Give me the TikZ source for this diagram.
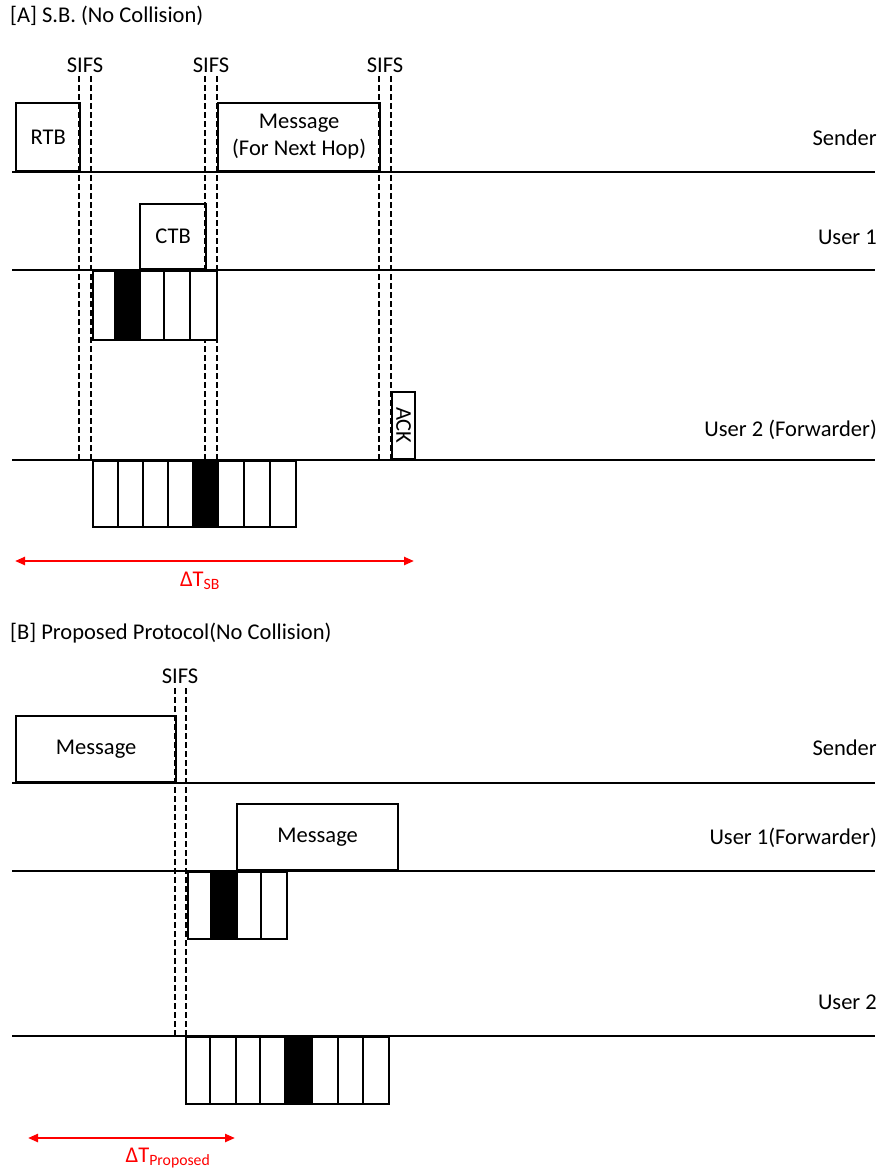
\documentclass[tikz,border=0pt]{standalone}
\usepackage{fontspec}
\setmainfont{Carlito}
\usetikzlibrary{arrows.meta}
\definecolor{arrred}{RGB}{255,0,0}
\begin{document}
\begin{tikzpicture}[x=1pt,y=-1pt,
  lane/.style={line width=2.3pt},
  box/.style={draw, line width=2.3pt, inner sep=0pt, anchor=south west, align=center, font=\fontsize{22.5}{27}\selectfont},
  slot/.style={draw, line width=2.3pt, inner sep=0pt, anchor=north west},
  sifs/.style={line width=2.3pt, dash pattern=on 6pt off 3pt},
  lbl/.style={font=\fontsize{22.5}{26}\selectfont, inner sep=0pt},
  title/.style={font=\fontsize{22.5}{26}\selectfont, inner sep=0pt, anchor=west},
  row/.style={font=\fontsize{22.5}{26}\selectfont, inner sep=0pt, anchor=east},
  dt/.style={arrred, line width=2.3pt, {Triangle[length=10pt,width=8pt]}-{Triangle[length=10pt,width=8pt]}},
  dtl/.style={text=arrred, font=\fontsize{22.5}{26}\selectfont, inner sep=0pt}]
\useasboundingbox (0,0) rectangle (882,1171);
% ---------------- [A] ----------------
\node[title] (ta) at (10,16) {[A] S.B. (No Collision)};
% lanes
\coordinate (a0l) at (12,172); \coordinate (a0r) at (875,172);
\coordinate (a1l) at (12,270); \coordinate (a1r) at (875,270);
\coordinate (a2l) at (12,460); \coordinate (a2r) at (875,460);
\draw[lane] (a0l) -- (a0r);
\draw[lane] (a1l) -- (a1r);
\draw[lane] (a2l) -- (a2r);
\node[row] (rs) at (877,138) {Sender};
\node[row] (ru1) at (877,237) {User 1};
\node[row] (ru2) at (877,430) {User 2 (Forwarder)};
% frames
\node[box, minimum width=64, minimum height=68] (rtb) at (15,172) {RTB};
\node[box, minimum width=162, minimum height=68] (msgA) at (217,172) {Message\\(For Next Hop)};
\node[box, minimum width=66, minimum height=65] (ctb) at (139,270) {CTB};
\node[box, minimum width=23, minimum height=67] (ack) at (391,460) {};
\node[lbl, rotate=-90] (ackt) at (ack.center) {ACK};
% SIFS
\foreach \xl/\xr/\n in {79/91/1, 205/217/2, 379/391/3}{
  \coordinate (sa\n t) at (\xl,76); \coordinate (sa\n b) at (\xl,460);
  \coordinate (sb\n t) at (\xr,76); \coordinate (sb\n b) at (\xr,460);
  \draw[sifs] (sa\n t) -- (sa\n b);
  \draw[sifs] (sb\n t) -- (sb\n b);
  \node[lbl] (sifsA\n) at ({(\xl+\xr)/2},65) {SIFS};
}
% slots user 1
\foreach \xa/\xb/\f [count=\i] in {92/114/white, 114/139/black, 139/163/white, 163/189/white, 189/216/white}{
  \node[slot, fill=\f, minimum width={\xb-\xa}, minimum height=69] (a1s\i) at (\xa,270) {};
}
% slots user 2
\foreach \xa/\xb/\f [count=\i] in {92/117/white, 117/142/white, 142/167/white, 167/192/white, 192/217/black, 217/243/white, 243/269/white, 269/295/white}{
  \node[slot, fill=\f, minimum width={\xb-\xa}, minimum height=66] (a2s\i) at (\xa,460) {};
}
% delta T
\coordinate (dal) at (15,561); \coordinate (dar) at (414,561);
\draw[dt] (dal) -- (dar);
\node[dtl] (dtA) at (200,581) {ΔT\textsubscript{SB}};
% ---------------- [B] ----------------
\node[title] (tb) at (10,633) {[B] Proposed Protocol(No Collision)};
\coordinate (b0l) at (12,783); \coordinate (b0r) at (875,783);
\coordinate (b1l) at (12,871); \coordinate (b1r) at (875,871);
\coordinate (b2l) at (12,1036); \coordinate (b2r) at (875,1036);
\draw[lane] (b0l) -- (b0r);
\draw[lane] (b1l) -- (b1r);
\draw[lane] (b2l) -- (b2r);
\node[row] (brs) at (877,748) {Sender};
\node[row] (bru1) at (877,838) {User 1(Forwarder)};
\node[row] (bru2) at (877,1002) {User 2};
\node[box, minimum width=160, minimum height=66] (msgB0) at (15,783) {Message};
\node[box, minimum width=161, minimum height=66] (msgB1) at (236,871) {Message};
\coordinate (sbat) at (175,688); \coordinate (sbab) at (175,1036);
\coordinate (sbbt) at (186,688); \coordinate (sbbb) at (186,1036);
\draw[sifs] (sbat) -- (sbab);
\draw[sifs] (sbbt) -- (sbbb);
\node[lbl] (sifsB) at (180,676) {SIFS};
\foreach \xa/\xb/\f [count=\i] in {187/210/white, 210/236/black, 236/260/white, 260/286/white}{
  \node[slot, fill=\f, minimum width={\xb-\xa}, minimum height=67] (b1s\i) at (\xa,871) {};
}
\foreach \xa/\xb/\f [count=\i] in {185/209/white, 209/235/white, 235/259/white, 259/284/white, 284/311/black, 311/337/white, 337/362/white, 362/388/white}{
  \node[slot, fill=\f, minimum width={\xb-\xa}, minimum height=67] (b2s\i) at (\xa,1036) {};
}
\coordinate (dbl) at (28,1138); \coordinate (dbr) at (235,1138);
\draw[dt] (dbl) -- (dbr);
\node[dtl] (dtB) at (168,1158) {ΔT\textsubscript{Proposed}};
\end{tikzpicture}
\end{document}
